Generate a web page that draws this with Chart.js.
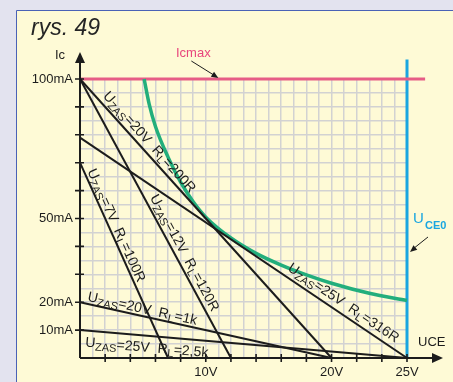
<!DOCTYPE html>
<html><head><meta charset="utf-8">
<script src="https://cdn.jsdelivr.net/npm/chart.js@4/dist/chart.umd.min.js"></script>
<style>
html,body{margin:0;padding:0;background:#E3E3EF;overflow:hidden;}
canvas{display:block;position:absolute;left:0;top:0;}
</style></head><body>
<canvas id="c" width="453" height="382"></canvas>
<script>
// ---------- data (volts / milliamps) ----------
const loadUzas = [20, 12, 7, 25, 20, 25];          // line end on UCE axis (V)
const loadI0   = [100, 100, 70, 79, 20, 10];        // current at UCE = 0 (mA)
const loadRl   = ['200R', '120R', '100R', '316R', '1k', '2,5k'];
const pmaxU = [5.1, 5.5, 6.0, 7.0, 8.0, 9.0, 10.0, 12.0, 14.0, 16.0, 18.0, 20.0, 22.5, 25.0];
const pmaxI = [100, 91, 83, 72, 63, 56, 50.5, 43, 37.5, 33.3, 29.8, 26.8, 23.2, 20.6];
const icmax = 100;            // mA
const icmaxSpanU = [0, 26.2]; // V
const uce0 = 25;              // V
const uce0SpanI = [0, 107];   // mA
const yTickLabels = [10, 20, 50, 100];   // mA
const xTickLabels = [10, 20, 25];        // V

// axis of the drawing: evenly spaced up to 20 V, the last 5 V drawn over 6 cells
function uAxis(v){ return v <= 20 ? v : 20 + (v - 20) * 1.2; }

// ---------- styles / layout ----------
const FONT = "'Liberation Sans', Arial, sans-serif";
const INK = '#1c1c1c';
const labelLayout = [ // where each load-line label starts (V), side and offset from the line (px)
  {at: 1.5,  side: 'above', off: 5},
  {at: 5.2,  side: 'above', off: 5},
  {at: 0.35, side: 'above', off: 3},
  {at: 16.2, side: 'above', off: 6},
  {at: 0.5,  side: 'above', off: 3},
  {at: 0.5,  side: 'below', off: 5}
];

const datasets = [];
for (let i = 0; i < loadUzas.length; i++) {
  datasets.push({
    data: [{x: 0, y: loadI0[i]}, {x: uAxis(loadUzas[i]), y: 0}],
    borderColor: INK, borderWidth: 2, showLine: true, pointRadius: 0, clip: false
  });
}
datasets.push({
  data: pmaxU.map((u, k) => ({x: uAxis(u), y: pmaxI[k]})),
  borderColor: '#22AE7C', borderWidth: 3.5, showLine: true, pointRadius: 0,
  cubicInterpolationMode: 'monotone', clip: false
});
datasets.push({
  data: icmaxSpanU.map(u => ({x: uAxis(u), y: icmax})),
  borderColor: '#E65C86', borderWidth: 3, showLine: true, pointRadius: 0, clip: false
});
datasets.push({
  data: uce0SpanI.map(i => ({x: uAxis(uce0), y: i})),
  borderColor: '#1AA6E0', borderWidth: 3, showLine: true, pointRadius: 0, clip: false
});

function arrowHead(ctx, x0, y0, x1, y1, len, half) {
  const a = Math.atan2(y1 - y0, x1 - x0);
  ctx.beginPath();
  ctx.moveTo(x1, y1);
  ctx.lineTo(x1 - len * Math.cos(a) + half * Math.sin(a), y1 - len * Math.sin(a) - half * Math.cos(a));
  ctx.lineTo(x1 - len * Math.cos(a) - half * Math.sin(a), y1 - len * Math.sin(a) + half * Math.cos(a));
  ctx.closePath();
  ctx.fill();
}

function drawRich(ctx, parts, x, y) {
  let cx = x;
  for (const p of parts) {
    if (p.gap) { cx += p.gap; continue; }
    ctx.font = (p.sub ? '11px ' : '14px ') + FONT;
    ctx.fillText(p.t, cx, y + (p.sub ? 3 : 0));
    cx += ctx.measureText(p.t).width;
  }
  return cx - x;
}

const decor = {
  id: 'decor',
  beforeDraw(chart) {
    const ctx = chart.ctx;
    ctx.save();
    ctx.fillStyle = '#E3E3EF';
    ctx.fillRect(0, 0, 453, 382);
    ctx.fillStyle = '#FEFAD6';
    ctx.fillRect(17, 11, 436, 371);
    ctx.strokeStyle = '#4A62B6';
    ctx.lineWidth = 1;
    ctx.beginPath();
    ctx.moveTo(16.5, 382); ctx.lineTo(16.5, 10.5); ctx.lineTo(453, 10.5);
    ctx.stroke();
    ctx.fillStyle = '#252525';
    ctx.font = 'italic 23px ' + FONT;
    ctx.textBaseline = 'alphabetic';
    ctx.fillText('rys. 49', 31, 35);
    ctx.restore();
  },
  afterDatasetsDraw(chart) {
    const ctx = chart.ctx;
    const xs = chart.scales.x, ys = chart.scales.y;
    const X = v => xs.getPixelForValue(v), Y = v => ys.getPixelForValue(v);
    const x0 = X(0), y0 = Y(0);
    ctx.save();
    ctx.strokeStyle = INK; ctx.fillStyle = INK; ctx.lineWidth = 2;
    // axes
    ctx.beginPath();
    ctx.moveTo(x0, y0); ctx.lineTo(x0, Y(100) - 18);
    ctx.moveTo(x0, y0); ctx.lineTo(X(26) + 28, y0);
    ctx.stroke();
    arrowHead(ctx, x0, y0, x0, Y(100) - 27, 11, 5);
    arrowHead(ctx, x0, y0, X(26) + 36, y0, 11, 5);
    // ticks
    ctx.lineWidth = 1.6;
    ctx.beginPath();
    for (let v = 2; v <= 26; v += 2) { ctx.moveTo(X(v), y0 - 4); ctx.lineTo(X(v), y0 + 4); }
    for (let v = 10; v <= 100; v += 10) { ctx.moveTo(x0 - 5, Y(v)); ctx.lineTo(x0 + 4, Y(v)); }
    ctx.stroke();
    // axis titles
    ctx.font = '13px ' + FONT;
    ctx.textBaseline = 'alphabetic';
    ctx.textAlign = 'left';
    ctx.fillText('Ic', x0 - 25, Y(100) - 20);
    ctx.fillText('UCE', X(26) + 11, y0 - 12);
    // load line labels
    ctx.fillStyle = INK;
    for (let i = 0; i < loadUzas.length; i++) {
      const ax = X(0), ay = Y(loadI0[i]);
      const bx = X(uAxis(loadUzas[i])), by = Y(0);
      const ang = Math.atan2(by - ay, bx - ax);
      const L = labelLayout[i];
      const t = (X(uAxis(L.at)) - ax) / (bx - ax);
      const px = ax + t * (bx - ax), py = ay + t * (by - ay);
      const parts = [
        {t: 'U'}, {t: 'ZAS', sub: true}, {t: '=' + loadUzas[i] + 'V'}, {gap: 8},
        {t: 'R'}, {t: 'L', sub: true}, {t: '=' + loadRl[i]}
      ];
      ctx.save();
      ctx.translate(px, py);
      ctx.rotate(ang);
      ctx.textAlign = 'left';
      ctx.textBaseline = 'alphabetic';
      const by0 = L.side === 'above' ? -L.off : L.off + 11;
      drawRich(ctx, parts, 0, by0);
      ctx.restore();
    }
    // Icmax annotation
    const tipX = X(uAxis(11)), tipY = Y(icmax) - 1;
    ctx.fillStyle = '#E8457C';
    ctx.font = '13px ' + FONT;
    ctx.textAlign = 'center';
    ctx.fillText('Icmax', tipX - 25, tipY - 21);
    ctx.strokeStyle = INK; ctx.fillStyle = INK; ctx.lineWidth = 1;
    ctx.beginPath(); ctx.moveTo(tipX - 27, tipY - 17); ctx.lineTo(tipX - 3, tipY - 2); ctx.stroke();
    arrowHead(ctx, tipX - 27, tipY - 17, tipX, tipY, 7, 3);
    // UCE0 annotation
    const bX = X(uAxis(uce0)) + 3, bY = Y(38);
    ctx.beginPath(); ctx.moveTo(bX + 18, bY - 15); ctx.lineTo(bX + 3, bY - 3); ctx.stroke();
    arrowHead(ctx, bX + 18, bY - 15, bX, bY, 7, 3);
    ctx.fillStyle = '#1AA6E0';
    ctx.textAlign = 'left';
    ctx.font = '15px ' + FONT;
    ctx.fillText('U', bX + 3, bY - 29);
    ctx.font = 'bold 11px ' + FONT;
    ctx.fillText('CE0', bX + 15, bY - 23);
    ctx.restore();
  }
};

new Chart(document.getElementById('c'), {
  type: 'scatter',
  data: {datasets},
  options: {
    responsive: false, animation: false, devicePixelRatio: 1,
    layout: {padding: {left: 0, top: 79, right: 46, bottom: 0}},
    plugins: {legend: {display: false}, tooltip: {enabled: false}, title: {display: false}},
    scales: {
      x: {
        type: 'linear', min: 0, max: 26,
        border: {display: false},
        grid: {color: '#D2D2D2', lineWidth: 1.5, drawTicks: false},
        afterFit: s => { s.height = 24; },
        ticks: {
          stepSize: 1, maxTicksLimit: 100, autoSkip: false, maxRotation: 0, padding: 7,
          color: INK, font: {size: 13, family: FONT},
          callback: val => {
            const v = xTickLabels.find(t => Math.abs(uAxis(t) - val) < 1e-6);
            return v === undefined ? '' : v + 'V';
          }
        }
      },
      y: {
        type: 'linear', min: 0, max: 100,
        border: {display: false},
        grid: {color: '#D2D2D2', lineWidth: 1.5, drawTicks: false},
        afterFit: s => { s.width = 80; },
        ticks: {
          stepSize: 5, maxTicksLimit: 100, autoSkip: false, padding: 7,
          color: INK, font: {size: 13, family: FONT},
          callback: val => yTickLabels.includes(val) ? val + 'mA' : ''
        }
      }
    }
  },
  plugins: [decor]
});
</script>
</body></html>
